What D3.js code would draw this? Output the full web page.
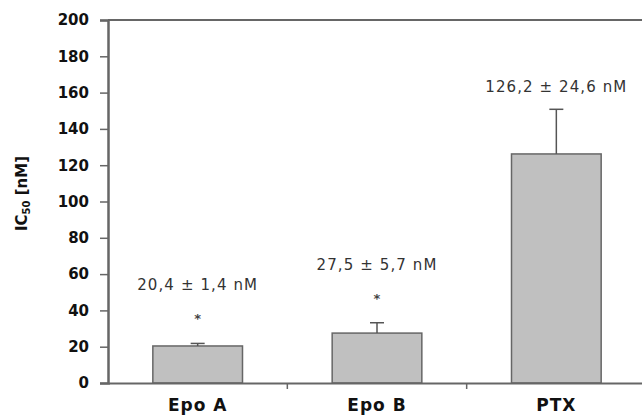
<!DOCTYPE html>
<html>
<head>
<meta charset="utf-8">
<script src="https://cdn.jsdelivr.net/npm/d3@7"></script>
<style>
  body { margin: 0; background: #fff; }
  svg { display: block; font-family: "DejaVu Sans", "Liberation Sans", Arial, sans-serif; }
</style>
</head>
<body>
<div id="chart"></div>
<script>
// data
var categories = ["Epo A", "Epo B", "PTX"];
var means = [20.4, 27.5, 126.2];
var errors = [1.4, 5.7, 24.6];
var labels = ["20,4 \u00b1 1,4 nM", "27,5 \u00b1 5,7 nM", "126,2 \u00b1 24,6 nM"];
var stars = [true, true, false];
var yTicks = [0, 20, 40, 60, 80, 100, 120, 140, 160, 180, 200];

var width = 642, height = 416;
var margin = {top: 20, right: -4, bottom: 33, left: 108};
var innerW = width - margin.left - margin.right,
    innerH = height - margin.top - margin.bottom;
var font = "DejaVu Sans";

var data = categories.map(function(c, i) {
  return {name: c, mean: means[i], err: errors[i], label: labels[i], star: stars[i]};
});

var x = d3.scaleBand()
    .domain(categories)
    .range([0, innerW])
    .padding(0);

var y = d3.scaleLinear()
    .domain([0, 200])
    .range([innerH, 0]);

var svg = d3.select("#chart").append("svg")
    .attr("width", width)
    .attr("height", height)
  .append("g")
    .attr("transform", "translate(" + margin.left + "," + margin.top + ")");

var axisColor = "#666";
var barW = x.bandwidth() * 0.5;

// top border
svg.append("line")
    .attr("x1", 0).attr("x2", innerW)
    .attr("y1", 0).attr("y2", 0)
    .attr("stroke", axisColor)
    .attr("stroke-width", 2);

// bars
svg.selectAll(".bar")
    .data(data)
  .enter().append("rect")
    .attr("class", "bar")
    .attr("x", function(d) { return x(d.name) + (x.bandwidth() - barW) / 2; })
    .attr("y", function(d) { return y(d.mean); })
    .attr("width", barW)
    .attr("height", function(d) { return y(0) - y(d.mean); })
    .attr("fill", "#c0c0c0")
    .attr("stroke", "#666")
    .attr("stroke-width", 1.5);

// error bars (upper only)
var eb = svg.selectAll(".err")
    .data(data)
  .enter().append("g")
    .attr("class", "err")
    .attr("stroke", "#555")
    .attr("stroke-width", 1.5);

eb.append("line")
    .attr("x1", function(d) { return x(d.name) + x.bandwidth() / 2; })
    .attr("x2", function(d) { return x(d.name) + x.bandwidth() / 2; })
    .attr("y1", function(d) { return y(d.mean); })
    .attr("y2", function(d) { return y(d.mean + d.err); });

eb.append("line")
    .attr("x1", function(d) { return x(d.name) + x.bandwidth() / 2 - 7; })
    .attr("x2", function(d) { return x(d.name) + x.bandwidth() / 2 + 7; })
    .attr("y1", function(d) { return y(d.mean + d.err); })
    .attr("y2", function(d) { return y(d.mean + d.err); });

// value labels
svg.selectAll(".vlabel")
    .data(data)
  .enter().append("text")
    .attr("class", "vlabel")
    .attr("x", function(d) { return x(d.name) + x.bandwidth() / 2; })
    .attr("y", function(d) { return y(d.mean + d.err) - (d.star ? 53 : 17); })
    .attr("text-anchor", "middle")
    .attr("font-size", 15)
    .attr("letter-spacing", 1.1)
    .attr("fill", "#333")
    .text(function(d) { return d.label; });

svg.selectAll(".star")
    .data(data.filter(function(d) { return d.star; }))
  .enter().append("text")
    .attr("class", "star")
    .attr("x", function(d) { return x(d.name) + x.bandwidth() / 2; })
    .attr("y", function(d) { return y(d.mean + d.err) - 20; })
    .attr("text-anchor", "middle")
    .attr("font-size", 13)
    .attr("font-weight", "bold")
    .attr("fill", "#444")
    .text("*");

// x axis
var xAxis = svg.append("g")
    .attr("transform", "translate(0," + innerH + ")")
    .call(d3.axisBottom(x).tickSize(0).tickPadding(16));
xAxis.attr("font-family", font);
xAxis.select(".domain").attr("stroke", axisColor).attr("stroke-width", 2);
xAxis.selectAll("text")
    .attr("font-size", 17)
    .attr("font-weight", "bold")
    .attr("letter-spacing", 1)
    .attr("fill", "#111");

// category separator ticks
svg.selectAll(".sep")
    .data(categories.slice(1))
  .enter().append("line")
    .attr("class", "sep")
    .attr("x1", function(d) { return x(d); })
    .attr("x2", function(d) { return x(d); })
    .attr("y1", innerH)
    .attr("y2", innerH + 6)
    .attr("stroke", axisColor)
    .attr("stroke-width", 1.5);

// y axis
var yAxis = svg.append("g")
    .call(d3.axisLeft(y).tickValues(yTicks).tickSize(8).tickPadding(11));
yAxis.attr("font-family", font);
yAxis.select(".domain").attr("stroke", axisColor).attr("stroke-width", 2.5);
yAxis.selectAll(".tick line").attr("stroke", axisColor).attr("stroke-width", 1.5);
yAxis.selectAll("text")
    .attr("font-size", 15)
    .attr("font-weight", "bold")
    .attr("fill", "#111");

// y title
var yt = svg.append("text")
    .attr("transform", "translate(" + (-81) + "," + (innerH / 2 - 8) + ") rotate(-90)")
    .attr("text-anchor", "middle")
    .attr("font-size", 15)
    .attr("font-weight", "bold")
    .attr("fill", "#111");
yt.append("tspan").text("IC");
yt.append("tspan").attr("font-size", 10).attr("dy", 3).text("50");
yt.append("tspan").attr("dy", -3).text(" [nM]");
</script>
</body>
</html>
